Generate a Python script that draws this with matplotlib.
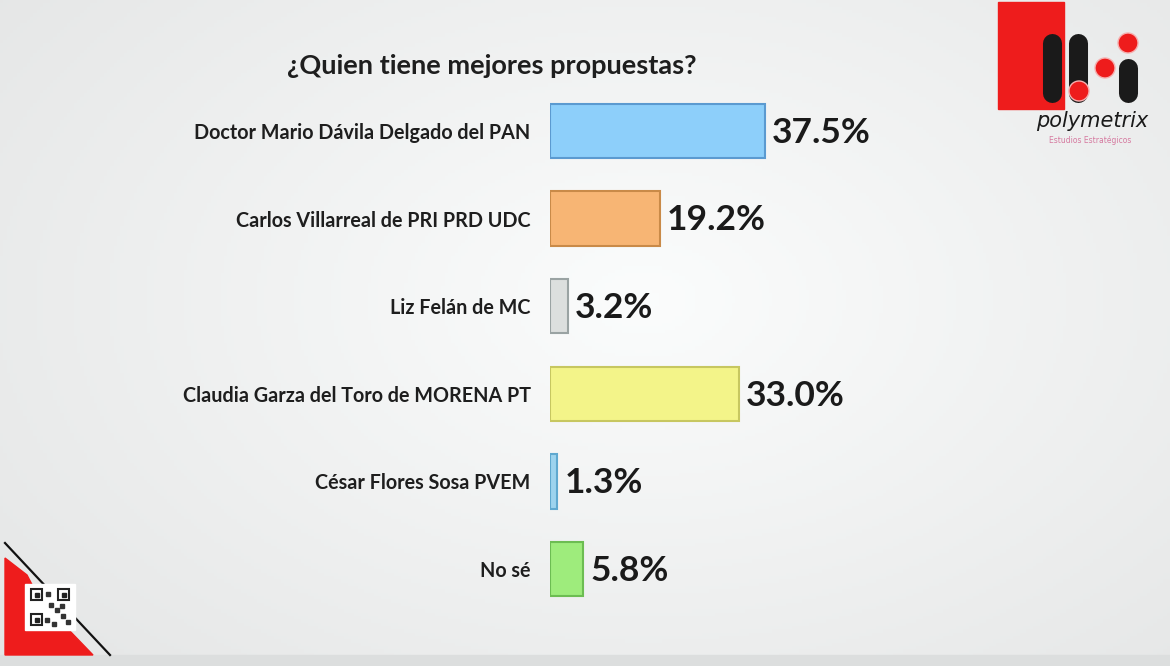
import numpy as np
import matplotlib.pyplot as plt
from matplotlib.patches import Rectangle, Circle, Polygon

# data
candidates = ["Doctor Mario Dávila Delgado del PAN",
              "Carlos Villarreal de PRI PRD UDC",
              "Liz Felán de MC",
              "Claudia Garza del Toro de MORENA PT",
              "César Flores Sosa PVEM",
              "No sé"]
values = [37.5, 19.2, 3.2, 33.0, 1.3, 5.8]
labels = ["37.5%", "19.2%", "3.2%", "33.0%", "1.3%", "5.8%"]
face_colors = ["#8dcffa", "#f7b574", "#dcdfde", "#f3f489", "#9dd3ee", "#9eec7c"]
edge_colors = ["#5b9ad0", "#c98a48", "#9aa3a3", "#c7c760", "#5fa8cf", "#6cbd52"]
title = "¿Quien tiene mejores propuestas?"

plt.rcParams['font.family'] = ['Lato', 'DejaVu Sans']

W, H = 1170, 666
fig = plt.figure(figsize=(W / 100, H / 100), dpi=100)

# background with a soft light centre
bg = fig.add_axes([0, 0, 1, 1])
yy, xx = np.mgrid[0:1:200j, 0:1:350j]
r = np.sqrt(((xx - 0.55) / 0.8) ** 2 + ((yy - 0.45) / 0.9) ** 2)
shade = np.clip(1 - 0.10 * r, 0.90, 1.0)
bg.imshow(np.dstack([shade * 0.985, shade * 0.99, shade * 0.99]),
          extent=[0, W, H, 0], aspect='auto')
bg.set_xlim(0, W)
bg.set_ylim(H, 0)
bg.axis('off')

# bottom strip
bg.add_patch(Rectangle((0, 655), W, 11, color="#dcdede", zorder=2))

# logo
bg.add_patch(Rectangle((998, 2), 66, 107, color="#ee1c1c", zorder=3))
for x0, y_top, y_bot in [(1052, 33, 102), (1078, 33, 102), (1128, 58, 102)]:
    bg.plot([x0, x0], [y_top + 9.5, y_bot - 9.5], color="#1a1a1a", lw=13.7,
            solid_capstyle='round', zorder=4)
for cx, cy in [(1128, 43), (1105, 68), (1079, 91)]:
    bg.add_patch(Circle((cx, cy), 10, color="#ee1c1c", ec="#f6b0b0", lw=1, zorder=5))
bg.text(1092, 121, "polymetrix", fontsize=15, style='italic',
        family=['DejaVu Sans'], color="#1a1a1a", ha='center', va='center', zorder=5)
bg.text(1090, 140, "Estudios Estratégicos", fontsize=5.5, color="#d67aa0",
        family=['DejaVu Sans'], ha='center', va='center', zorder=5)

# bottom-left corner decoration
bg.add_patch(Polygon([(5, 558), (5, 655), (93, 655), (40, 600), (27, 575)],
                     closed=True, color="#ee1c1c", zorder=3))
bg.plot([5, 110], [543, 655], color="#111111", lw=1.6, zorder=4)
bg.add_patch(Rectangle((25, 584), 50, 46, color="white", zorder=5))
for qx, qy in [(31, 589), (58, 589), (31, 614)]:
    bg.add_patch(Rectangle((qx, qy), 11, 11, fill=False, ec="#222", lw=1.5, zorder=6))
    bg.add_patch(Rectangle((qx + 3.5, qy + 3.5), 4, 4, color="#222", zorder=6))
for qx, qy in [(46, 592), (49, 603), (55, 608), (61, 614), (45, 618), (66, 620), (52, 622), (60, 604)]:
    bg.add_patch(Rectangle((qx, qy), 4, 4, color="#333", zorder=6))

# title
fig.text(492 / W, 1 - 66 / H, title, fontsize=19.5, fontweight='bold',
         color="#1e1e1e", ha='center', va='center')

# bar chart
ax = fig.add_axes([550 / W, 1 - 612.8 / H, 573 / W, 525.6 / H])
ax.patch.set_alpha(0)
y = np.arange(len(values))
ax.barh(y, values, height=0.62, color=face_colors, edgecolor=edge_colors, linewidth=1.5)
ax.set_xlim(0, 100)
ax.set_ylim(len(values) - 0.5, -0.5)
ax.set_yticks(y)
ax.set_yticklabels(candidates, fontsize=14.2, fontweight='bold', color="#1e1e1e")
ax.tick_params(axis='y', length=0, pad=14)
ax.set_xticks([])
for s in ax.spines.values():
    s.set_visible(False)
for yi, v, lab in zip(y, values, labels):
    ax.text(v + 1.2, yi + 0.02, lab, fontsize=25.5, fontweight='bold',
            color="#1a1a1a", ha='left', va='center')

fig.savefig("out.png", dpi=100)
